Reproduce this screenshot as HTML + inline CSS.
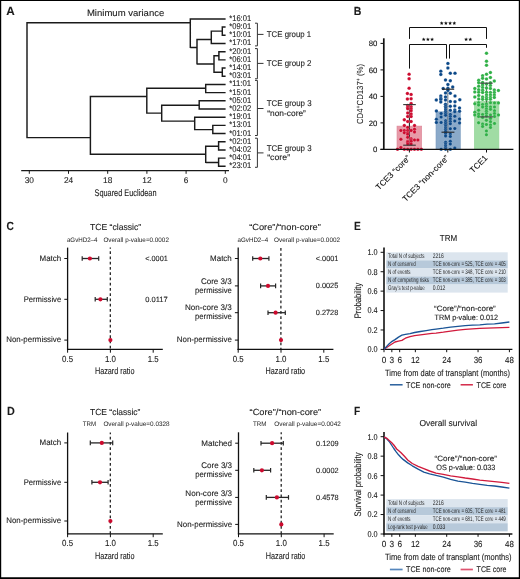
<!DOCTYPE html>
<html><head><meta charset="utf-8"><title>Figure</title>
<style>
html,body{margin:0;padding:0;background:#fff;}
body{width:520px;height:579px;overflow:hidden;}
svg{display:block;font-family:"Liberation Sans",sans-serif;will-change:transform;text-rendering:geometricPrecision;}
</style></head>
<body>
<svg width="520" height="579" viewBox="0 0 520 579" fill="#1a1a1a">
<rect x="0" y="0" width="520" height="579" fill="#fff"/>
<text x="6.30" y="15.40" font-size="11.8" font-weight="bold" stroke="#1a1a1a" stroke-width="0.10" textLength="8.50" lengthAdjust="spacingAndGlyphs">A</text>
<text x="86.90" y="16.20" font-size="9.2" stroke="#1a1a1a" stroke-width="0.10" textLength="77.40" lengthAdjust="spacingAndGlyphs">Minimum variance</text>
<text x="229.20" y="20.85" font-size="8.4" stroke="#1a1a1a" stroke-width="0.10" textLength="22.00" lengthAdjust="spacingAndGlyphs">*16:01</text>
<text x="229.20" y="29.04" font-size="8.4" stroke="#1a1a1a" stroke-width="0.10" textLength="22.00" lengthAdjust="spacingAndGlyphs">*09:01</text>
<text x="229.20" y="37.23" font-size="8.4" stroke="#1a1a1a" stroke-width="0.10" textLength="22.00" lengthAdjust="spacingAndGlyphs">*10:01</text>
<text x="229.20" y="45.42" font-size="8.4" stroke="#1a1a1a" stroke-width="0.10" textLength="22.00" lengthAdjust="spacingAndGlyphs">*17:01</text>
<text x="229.20" y="53.61" font-size="8.4" stroke="#1a1a1a" stroke-width="0.10" textLength="22.00" lengthAdjust="spacingAndGlyphs">*20:01</text>
<text x="229.20" y="61.80" font-size="8.4" stroke="#1a1a1a" stroke-width="0.10" textLength="22.00" lengthAdjust="spacingAndGlyphs">*06:01</text>
<text x="229.20" y="69.99" font-size="8.4" stroke="#1a1a1a" stroke-width="0.10" textLength="22.00" lengthAdjust="spacingAndGlyphs">*14:01</text>
<text x="229.20" y="78.18" font-size="8.4" stroke="#1a1a1a" stroke-width="0.10" textLength="22.00" lengthAdjust="spacingAndGlyphs">*03:01</text>
<text x="229.20" y="86.37" font-size="8.4" stroke="#1a1a1a" stroke-width="0.10" textLength="22.00" lengthAdjust="spacingAndGlyphs">*11:01</text>
<text x="229.20" y="94.56" font-size="8.4" stroke="#1a1a1a" stroke-width="0.10" textLength="22.00" lengthAdjust="spacingAndGlyphs">*15:01</text>
<text x="229.20" y="102.75" font-size="8.4" stroke="#1a1a1a" stroke-width="0.10" textLength="22.00" lengthAdjust="spacingAndGlyphs">*05:01</text>
<text x="229.20" y="110.94" font-size="8.4" stroke="#1a1a1a" stroke-width="0.10" textLength="22.00" lengthAdjust="spacingAndGlyphs">*02:02</text>
<text x="229.20" y="119.13" font-size="8.4" stroke="#1a1a1a" stroke-width="0.10" textLength="22.00" lengthAdjust="spacingAndGlyphs">*19:01</text>
<text x="229.20" y="127.32" font-size="8.4" stroke="#1a1a1a" stroke-width="0.10" textLength="22.00" lengthAdjust="spacingAndGlyphs">*13:01</text>
<text x="229.20" y="135.51" font-size="8.4" stroke="#1a1a1a" stroke-width="0.10" textLength="22.00" lengthAdjust="spacingAndGlyphs">*01:01</text>
<text x="229.20" y="143.70" font-size="8.4" stroke="#1a1a1a" stroke-width="0.10" textLength="22.00" lengthAdjust="spacingAndGlyphs">*02:01</text>
<text x="229.20" y="151.89" font-size="8.4" stroke="#1a1a1a" stroke-width="0.10" textLength="22.00" lengthAdjust="spacingAndGlyphs">*04:02</text>
<text x="229.20" y="160.08" font-size="8.4" stroke="#1a1a1a" stroke-width="0.10" textLength="22.00" lengthAdjust="spacingAndGlyphs">*04:01</text>
<text x="229.20" y="168.27" font-size="8.4" stroke="#1a1a1a" stroke-width="0.10" textLength="22.00" lengthAdjust="spacingAndGlyphs">*23:01</text>
<path d="M27.00 21.97V138.32M27.00 22.70H190.30M27.00 137.60H90.40M190.30 18.17V48.12M190.30 18.90H225.60M190.30 47.40H197.00M197.00 38.77V64.62M197.00 39.50H211.30M211.30 30.38V44.20M211.30 43.47H225.60M211.30 31.10H222.30M222.30 26.36V36.01M222.30 27.09H225.60M222.30 35.28H225.60M197.00 63.90H214.00M214.00 55.07V72.92M214.00 55.80H218.90M218.90 50.93V60.57M218.90 51.66H225.60M218.90 59.85H225.60M214.00 72.20H222.30M222.30 67.31V76.95M222.30 68.04H225.60M222.30 76.23H225.60M90.40 95.68V154.92M90.40 96.40H146.80M146.80 87.58V113.82M146.80 88.30H205.70M205.70 83.69V93.33M205.70 84.42H225.60M205.70 92.61H225.60M146.80 113.10H161.70M161.70 104.48V121.82M161.70 105.20H199.20M199.20 100.07V109.71M199.20 100.80H225.60M199.20 108.99H225.60M161.70 121.10H194.70M194.70 116.46V130.32M194.70 117.18H225.60M194.70 129.60H212.80M212.80 124.65V134.28M212.80 125.37H225.60M212.80 133.56H225.60M90.40 154.20H205.70M205.70 145.58V163.12M205.70 146.30H218.60M218.60 141.03V150.66M218.60 141.75H225.60M218.60 149.94H225.60M205.70 162.40H218.60M218.60 157.41V167.04M218.60 158.13H225.60M218.60 166.32H225.60" fill="none" stroke="#1a1a1a" stroke-width="1.45" />
<line x1="21.20" y1="170.60" x2="229.00" y2="170.60" stroke="#1a1a1a" stroke-width="1.4" />
<line x1="29.30" y1="170.60" x2="29.30" y2="173.80" stroke="#1a1a1a" stroke-width="1.0" />
<text x="29.30" y="183.10" font-size="8.3" text-anchor="middle" stroke="#1a1a1a" stroke-width="0.10">30</text>
<line x1="68.50" y1="170.60" x2="68.50" y2="173.80" stroke="#1a1a1a" stroke-width="1.0" />
<text x="68.50" y="183.10" font-size="8.3" text-anchor="middle" stroke="#1a1a1a" stroke-width="0.10">24</text>
<line x1="107.70" y1="170.60" x2="107.70" y2="173.80" stroke="#1a1a1a" stroke-width="1.0" />
<text x="107.70" y="183.10" font-size="8.3" text-anchor="middle" stroke="#1a1a1a" stroke-width="0.10">18</text>
<line x1="146.90" y1="170.60" x2="146.90" y2="173.80" stroke="#1a1a1a" stroke-width="1.0" />
<text x="146.90" y="183.10" font-size="8.3" text-anchor="middle" stroke="#1a1a1a" stroke-width="0.10">12</text>
<line x1="186.10" y1="170.60" x2="186.10" y2="173.80" stroke="#1a1a1a" stroke-width="1.0" />
<text x="186.10" y="183.10" font-size="8.3" text-anchor="middle" stroke="#1a1a1a" stroke-width="0.10">6</text>
<line x1="225.30" y1="170.60" x2="225.30" y2="173.80" stroke="#1a1a1a" stroke-width="1.0" />
<text x="225.30" y="183.10" font-size="8.3" text-anchor="middle" stroke="#1a1a1a" stroke-width="0.10">0</text>
<text x="94.50" y="196.20" font-size="9.5" stroke="#1a1a1a" stroke-width="0.10" textLength="62.00" lengthAdjust="spacingAndGlyphs">Squared Euclidean</text>
<path d="M255.0 23.20H257.4V45.90H255.0M257.4 34.40H263.5" fill="none" stroke="#333" stroke-width="1.0" />
<path d="M255.0 48.60H257.4V78.80H255.0M257.4 63.40H263.5" fill="none" stroke="#333" stroke-width="1.0" />
<path d="M255.0 80.40H257.4V135.50H255.0M257.4 108.50H263.5" fill="none" stroke="#333" stroke-width="1.0" />
<path d="M255.0 138.20H257.4V167.30H255.0M257.4 152.90H263.5" fill="none" stroke="#333" stroke-width="1.0" />
<text x="266.80" y="36.80" font-size="8.3" stroke="#1a1a1a" stroke-width="0.10" textLength="44.40" lengthAdjust="spacingAndGlyphs">TCE group 1</text>
<text x="266.80" y="66.10" font-size="8.3" stroke="#1a1a1a" stroke-width="0.10" textLength="44.60" lengthAdjust="spacingAndGlyphs">TCE group 2</text>
<text x="266.80" y="106.40" font-size="8.3" stroke="#1a1a1a" stroke-width="0.10" textLength="44.80" lengthAdjust="spacingAndGlyphs">TCE group 3</text>
<text x="267.20" y="115.90" font-size="8.3" stroke="#1a1a1a" stroke-width="0.10" textLength="38.70" lengthAdjust="spacingAndGlyphs">“non-core”</text>
<text x="266.80" y="150.90" font-size="8.3" stroke="#1a1a1a" stroke-width="0.10" textLength="44.80" lengthAdjust="spacingAndGlyphs">TCE group 3</text>
<text x="267.20" y="160.00" font-size="8.3" stroke="#1a1a1a" stroke-width="0.10" textLength="22.90" lengthAdjust="spacingAndGlyphs">“core”</text>
<text x="353.80" y="15.40" font-size="11.8" font-weight="bold" stroke="#1a1a1a" stroke-width="0.10" textLength="7.60" lengthAdjust="spacingAndGlyphs">B</text>
<rect x="397.00" y="126.10" width="24.70" height="23.30" fill="#e79aa8" stroke="#dc8597" stroke-width="0.6"/>
<rect x="436.00" y="111.80" width="24.30" height="37.60" fill="#8aa9c9" stroke="#7b9cbf" stroke-width="0.6"/>
<rect x="474.30" y="101.20" width="24.60" height="48.20" fill="#a0dca4" stroke="#93d498" stroke-width="0.6"/>
<line x1="409.40" y1="104.60" x2="409.40" y2="145.20" stroke="#222" stroke-width="1.1" />
<line x1="447.80" y1="89.20" x2="447.80" y2="132.20" stroke="#6f7b86" stroke-width="1.1" />
<line x1="486.50" y1="83.00" x2="486.50" y2="116.90" stroke="#444" stroke-width="1.1" />
<circle cx="409.10" cy="74.20" r="1.75" fill="#cc0a2e" stroke="#fff" stroke-opacity="0.45" stroke-width="0.4"/>
<circle cx="409.10" cy="78.70" r="1.75" fill="#cc0a2e" stroke="#fff" stroke-opacity="0.45" stroke-width="0.4"/>
<circle cx="409.10" cy="88.20" r="1.75" fill="#cc0a2e" stroke="#fff" stroke-opacity="0.45" stroke-width="0.4"/>
<circle cx="407.40" cy="93.50" r="1.75" fill="#cc0a2e" stroke="#fff" stroke-opacity="0.45" stroke-width="0.4"/>
<circle cx="411.10" cy="94.40" r="1.75" fill="#cc0a2e" stroke="#fff" stroke-opacity="0.45" stroke-width="0.4"/>
<circle cx="407.40" cy="99.00" r="1.75" fill="#cc0a2e" stroke="#fff" stroke-opacity="0.45" stroke-width="0.4"/>
<circle cx="411.10" cy="98.80" r="1.75" fill="#cc0a2e" stroke="#fff" stroke-opacity="0.45" stroke-width="0.4"/>
<circle cx="411.10" cy="103.60" r="1.75" fill="#cc0a2e" stroke="#fff" stroke-opacity="0.45" stroke-width="0.4"/>
<circle cx="407.70" cy="105.57" r="1.75" fill="#cc0a2e" stroke="#fff" stroke-opacity="0.45" stroke-width="0.4"/>
<circle cx="411.10" cy="106.74" r="1.75" fill="#cc0a2e" stroke="#fff" stroke-opacity="0.45" stroke-width="0.4"/>
<circle cx="407.70" cy="107.19" r="1.75" fill="#cc0a2e" stroke="#fff" stroke-opacity="0.45" stroke-width="0.4"/>
<circle cx="407.70" cy="108.72" r="1.75" fill="#cc0a2e" stroke="#fff" stroke-opacity="0.45" stroke-width="0.4"/>
<circle cx="411.10" cy="108.72" r="1.75" fill="#cc0a2e" stroke="#fff" stroke-opacity="0.45" stroke-width="0.4"/>
<circle cx="411.10" cy="110.78" r="1.75" fill="#cc0a2e" stroke="#fff" stroke-opacity="0.45" stroke-width="0.4"/>
<circle cx="407.70" cy="113.03" r="1.75" fill="#cc0a2e" stroke="#fff" stroke-opacity="0.45" stroke-width="0.4"/>
<circle cx="411.10" cy="113.93" r="1.75" fill="#cc0a2e" stroke="#fff" stroke-opacity="0.45" stroke-width="0.4"/>
<circle cx="407.70" cy="116.62" r="1.75" fill="#cc0a2e" stroke="#fff" stroke-opacity="0.45" stroke-width="0.4"/>
<circle cx="411.10" cy="116.62" r="1.75" fill="#cc0a2e" stroke="#fff" stroke-opacity="0.45" stroke-width="0.4"/>
<circle cx="404.30" cy="119.77" r="1.75" fill="#cc0a2e" stroke="#fff" stroke-opacity="0.45" stroke-width="0.4"/>
<circle cx="407.70" cy="121.56" r="1.75" fill="#cc0a2e" stroke="#fff" stroke-opacity="0.45" stroke-width="0.4"/>
<circle cx="411.10" cy="121.56" r="1.75" fill="#cc0a2e" stroke="#fff" stroke-opacity="0.45" stroke-width="0.4"/>
<circle cx="404.30" cy="125.61" r="1.75" fill="#cc0a2e" stroke="#fff" stroke-opacity="0.45" stroke-width="0.4"/>
<circle cx="414.50" cy="125.61" r="1.75" fill="#cc0a2e" stroke="#fff" stroke-opacity="0.45" stroke-width="0.4"/>
<circle cx="407.70" cy="127.40" r="1.75" fill="#cc0a2e" stroke="#fff" stroke-opacity="0.45" stroke-width="0.4"/>
<circle cx="414.50" cy="129.20" r="1.75" fill="#cc0a2e" stroke="#fff" stroke-opacity="0.45" stroke-width="0.4"/>
<circle cx="400.90" cy="130.55" r="1.75" fill="#cc0a2e" stroke="#fff" stroke-opacity="0.45" stroke-width="0.4"/>
<circle cx="404.30" cy="130.55" r="1.75" fill="#cc0a2e" stroke="#fff" stroke-opacity="0.45" stroke-width="0.4"/>
<circle cx="407.70" cy="130.55" r="1.75" fill="#cc0a2e" stroke="#fff" stroke-opacity="0.45" stroke-width="0.4"/>
<circle cx="411.10" cy="130.55" r="1.75" fill="#cc0a2e" stroke="#fff" stroke-opacity="0.45" stroke-width="0.4"/>
<circle cx="414.50" cy="131.90" r="1.75" fill="#cc0a2e" stroke="#fff" stroke-opacity="0.45" stroke-width="0.4"/>
<circle cx="404.30" cy="132.79" r="1.75" fill="#cc0a2e" stroke="#fff" stroke-opacity="0.45" stroke-width="0.4"/>
<circle cx="407.70" cy="132.79" r="1.75" fill="#cc0a2e" stroke="#fff" stroke-opacity="0.45" stroke-width="0.4"/>
<circle cx="407.70" cy="134.14" r="1.75" fill="#cc0a2e" stroke="#fff" stroke-opacity="0.45" stroke-width="0.4"/>
<circle cx="407.70" cy="137.29" r="1.75" fill="#cc0a2e" stroke="#fff" stroke-opacity="0.45" stroke-width="0.4"/>
<circle cx="411.10" cy="138.63" r="1.75" fill="#cc0a2e" stroke="#fff" stroke-opacity="0.45" stroke-width="0.4"/>
<circle cx="400.90" cy="139.35" r="1.75" fill="#cc0a2e" stroke="#fff" stroke-opacity="0.45" stroke-width="0.4"/>
<circle cx="411.10" cy="139.98" r="1.75" fill="#cc0a2e" stroke="#fff" stroke-opacity="0.45" stroke-width="0.4"/>
<circle cx="414.50" cy="139.98" r="1.75" fill="#cc0a2e" stroke="#fff" stroke-opacity="0.45" stroke-width="0.4"/>
<circle cx="417.90" cy="139.98" r="1.75" fill="#cc0a2e" stroke="#fff" stroke-opacity="0.45" stroke-width="0.4"/>
<circle cx="407.70" cy="141.33" r="1.75" fill="#cc0a2e" stroke="#fff" stroke-opacity="0.45" stroke-width="0.4"/>
<circle cx="411.10" cy="141.33" r="1.75" fill="#cc0a2e" stroke="#fff" stroke-opacity="0.45" stroke-width="0.4"/>
<circle cx="407.70" cy="142.23" r="1.75" fill="#cc0a2e" stroke="#fff" stroke-opacity="0.45" stroke-width="0.4"/>
<circle cx="407.70" cy="144.03" r="1.75" fill="#cc0a2e" stroke="#fff" stroke-opacity="0.45" stroke-width="0.4"/>
<circle cx="411.10" cy="144.03" r="1.75" fill="#cc0a2e" stroke="#fff" stroke-opacity="0.45" stroke-width="0.4"/>
<circle cx="400.90" cy="147.62" r="1.75" fill="#cc0a2e" stroke="#fff" stroke-opacity="0.45" stroke-width="0.4"/>
<circle cx="397.50" cy="149.24" r="1.75" fill="#cc0a2e" stroke="#fff" stroke-opacity="0.45" stroke-width="0.4"/>
<circle cx="404.30" cy="149.24" r="1.75" fill="#cc0a2e" stroke="#fff" stroke-opacity="0.45" stroke-width="0.4"/>
<circle cx="407.70" cy="149.24" r="1.75" fill="#cc0a2e" stroke="#fff" stroke-opacity="0.45" stroke-width="0.4"/>
<circle cx="411.10" cy="149.24" r="1.75" fill="#cc0a2e" stroke="#fff" stroke-opacity="0.45" stroke-width="0.4"/>
<circle cx="414.50" cy="149.24" r="1.75" fill="#cc0a2e" stroke="#fff" stroke-opacity="0.45" stroke-width="0.4"/>
<circle cx="417.90" cy="149.24" r="1.75" fill="#cc0a2e" stroke="#fff" stroke-opacity="0.45" stroke-width="0.4"/>
<circle cx="421.30" cy="149.24" r="1.75" fill="#cc0a2e" stroke="#fff" stroke-opacity="0.45" stroke-width="0.4"/>
<circle cx="447.90" cy="63.40" r="1.75" fill="#0b4888" stroke="#fff" stroke-opacity="0.45" stroke-width="0.4"/>
<circle cx="447.90" cy="68.00" r="1.75" fill="#0b4888" stroke="#fff" stroke-opacity="0.45" stroke-width="0.4"/>
<circle cx="440.80" cy="71.20" r="1.75" fill="#0b4888" stroke="#fff" stroke-opacity="0.45" stroke-width="0.4"/>
<circle cx="440.80" cy="74.40" r="1.75" fill="#0b4888" stroke="#fff" stroke-opacity="0.45" stroke-width="0.4"/>
<circle cx="450.30" cy="73.20" r="1.75" fill="#0b4888" stroke="#fff" stroke-opacity="0.45" stroke-width="0.4"/>
<circle cx="455.00" cy="73.20" r="1.75" fill="#0b4888" stroke="#fff" stroke-opacity="0.45" stroke-width="0.4"/>
<circle cx="445.50" cy="79.90" r="1.75" fill="#0b4888" stroke="#fff" stroke-opacity="0.45" stroke-width="0.4"/>
<circle cx="450.30" cy="80.70" r="1.75" fill="#0b4888" stroke="#fff" stroke-opacity="0.45" stroke-width="0.4"/>
<circle cx="447.90" cy="84.60" r="1.75" fill="#0b4888" stroke="#fff" stroke-opacity="0.45" stroke-width="0.4"/>
<circle cx="452.70" cy="87.00" r="1.75" fill="#0b4888" stroke="#fff" stroke-opacity="0.45" stroke-width="0.4"/>
<circle cx="443.20" cy="88.50" r="1.75" fill="#0b4888" stroke="#fff" stroke-opacity="0.45" stroke-width="0.4"/>
<circle cx="447.90" cy="88.30" r="1.75" fill="#0b4888" stroke="#fff" stroke-opacity="0.45" stroke-width="0.4"/>
<circle cx="447.90" cy="90.40" r="1.75" fill="#0b4888" stroke="#fff" stroke-opacity="0.45" stroke-width="0.4"/>
<circle cx="445.50" cy="93.00" r="1.75" fill="#0b4888" stroke="#fff" stroke-opacity="0.45" stroke-width="0.4"/>
<circle cx="450.30" cy="93.20" r="1.75" fill="#0b4888" stroke="#fff" stroke-opacity="0.45" stroke-width="0.4"/>
<circle cx="440.80" cy="96.10" r="1.75" fill="#0b4888" stroke="#fff" stroke-opacity="0.45" stroke-width="0.4"/>
<circle cx="445.50" cy="96.90" r="1.75" fill="#0b4888" stroke="#fff" stroke-opacity="0.45" stroke-width="0.4"/>
<circle cx="455.00" cy="95.90" r="1.75" fill="#0b4888" stroke="#fff" stroke-opacity="0.45" stroke-width="0.4"/>
<circle cx="440.80" cy="98.20" r="1.75" fill="#0b4888" stroke="#fff" stroke-opacity="0.45" stroke-width="0.4"/>
<circle cx="436.30" cy="99.90" r="1.75" fill="#0b4888" stroke="#fff" stroke-opacity="0.45" stroke-width="0.4"/>
<circle cx="440.80" cy="99.50" r="1.75" fill="#0b4888" stroke="#fff" stroke-opacity="0.45" stroke-width="0.4"/>
<circle cx="445.50" cy="99.90" r="1.75" fill="#0b4888" stroke="#fff" stroke-opacity="0.45" stroke-width="0.4"/>
<circle cx="459.80" cy="99.80" r="1.75" fill="#0b4888" stroke="#fff" stroke-opacity="0.45" stroke-width="0.4"/>
<circle cx="440.80" cy="102.10" r="1.75" fill="#0b4888" stroke="#fff" stroke-opacity="0.45" stroke-width="0.4"/>
<circle cx="450.30" cy="101.40" r="1.75" fill="#0b4888" stroke="#fff" stroke-opacity="0.45" stroke-width="0.4"/>
<circle cx="455.00" cy="101.70" r="1.75" fill="#0b4888" stroke="#fff" stroke-opacity="0.45" stroke-width="0.4"/>
<circle cx="445.50" cy="104.30" r="1.75" fill="#0b4888" stroke="#fff" stroke-opacity="0.45" stroke-width="0.4"/>
<circle cx="445.60" cy="106.30" r="1.75" fill="#0b4888" stroke="#fff" stroke-opacity="0.45" stroke-width="0.4"/>
<circle cx="445.60" cy="108.10" r="1.75" fill="#0b4888" stroke="#fff" stroke-opacity="0.45" stroke-width="0.4"/>
<circle cx="445.60" cy="109.90" r="1.75" fill="#0b4888" stroke="#fff" stroke-opacity="0.45" stroke-width="0.4"/>
<circle cx="445.60" cy="111.70" r="1.75" fill="#0b4888" stroke="#fff" stroke-opacity="0.45" stroke-width="0.4"/>
<circle cx="445.60" cy="113.50" r="1.75" fill="#0b4888" stroke="#fff" stroke-opacity="0.45" stroke-width="0.4"/>
<circle cx="445.60" cy="115.30" r="1.75" fill="#0b4888" stroke="#fff" stroke-opacity="0.45" stroke-width="0.4"/>
<circle cx="445.60" cy="120.70" r="1.75" fill="#0b4888" stroke="#fff" stroke-opacity="0.45" stroke-width="0.4"/>
<circle cx="445.60" cy="122.50" r="1.75" fill="#0b4888" stroke="#fff" stroke-opacity="0.45" stroke-width="0.4"/>
<circle cx="445.60" cy="124.30" r="1.75" fill="#0b4888" stroke="#fff" stroke-opacity="0.45" stroke-width="0.4"/>
<circle cx="445.60" cy="126.10" r="1.75" fill="#0b4888" stroke="#fff" stroke-opacity="0.45" stroke-width="0.4"/>
<circle cx="445.60" cy="127.90" r="1.75" fill="#0b4888" stroke="#fff" stroke-opacity="0.45" stroke-width="0.4"/>
<circle cx="445.60" cy="129.60" r="1.75" fill="#0b4888" stroke="#fff" stroke-opacity="0.45" stroke-width="0.4"/>
<circle cx="445.60" cy="131.40" r="1.75" fill="#0b4888" stroke="#fff" stroke-opacity="0.45" stroke-width="0.4"/>
<circle cx="445.60" cy="133.70" r="1.75" fill="#0b4888" stroke="#fff" stroke-opacity="0.45" stroke-width="0.4"/>
<circle cx="445.60" cy="135.90" r="1.75" fill="#0b4888" stroke="#fff" stroke-opacity="0.45" stroke-width="0.4"/>
<circle cx="445.60" cy="142.20" r="1.75" fill="#0b4888" stroke="#fff" stroke-opacity="0.45" stroke-width="0.4"/>
<circle cx="445.60" cy="144.00" r="1.75" fill="#0b4888" stroke="#fff" stroke-opacity="0.45" stroke-width="0.4"/>
<circle cx="445.60" cy="145.80" r="1.75" fill="#0b4888" stroke="#fff" stroke-opacity="0.45" stroke-width="0.4"/>
<circle cx="445.60" cy="147.60" r="1.75" fill="#0b4888" stroke="#fff" stroke-opacity="0.45" stroke-width="0.4"/>
<circle cx="445.60" cy="149.20" r="1.75" fill="#0b4888" stroke="#fff" stroke-opacity="0.45" stroke-width="0.4"/>
<circle cx="450.30" cy="106.30" r="1.75" fill="#0b4888" stroke="#fff" stroke-opacity="0.45" stroke-width="0.4"/>
<circle cx="450.30" cy="110.30" r="1.75" fill="#0b4888" stroke="#fff" stroke-opacity="0.45" stroke-width="0.4"/>
<circle cx="450.30" cy="114.40" r="1.75" fill="#0b4888" stroke="#fff" stroke-opacity="0.45" stroke-width="0.4"/>
<circle cx="450.30" cy="116.60" r="1.75" fill="#0b4888" stroke="#fff" stroke-opacity="0.45" stroke-width="0.4"/>
<circle cx="450.30" cy="118.90" r="1.75" fill="#0b4888" stroke="#fff" stroke-opacity="0.45" stroke-width="0.4"/>
<circle cx="450.30" cy="121.60" r="1.75" fill="#0b4888" stroke="#fff" stroke-opacity="0.45" stroke-width="0.4"/>
<circle cx="450.30" cy="123.80" r="1.75" fill="#0b4888" stroke="#fff" stroke-opacity="0.45" stroke-width="0.4"/>
<circle cx="450.30" cy="128.80" r="1.75" fill="#0b4888" stroke="#fff" stroke-opacity="0.45" stroke-width="0.4"/>
<circle cx="450.30" cy="134.10" r="1.75" fill="#0b4888" stroke="#fff" stroke-opacity="0.45" stroke-width="0.4"/>
<circle cx="450.30" cy="136.40" r="1.75" fill="#0b4888" stroke="#fff" stroke-opacity="0.45" stroke-width="0.4"/>
<circle cx="450.30" cy="141.30" r="1.75" fill="#0b4888" stroke="#fff" stroke-opacity="0.45" stroke-width="0.4"/>
<circle cx="450.30" cy="144.00" r="1.75" fill="#0b4888" stroke="#fff" stroke-opacity="0.45" stroke-width="0.4"/>
<circle cx="450.30" cy="149.20" r="1.75" fill="#0b4888" stroke="#fff" stroke-opacity="0.45" stroke-width="0.4"/>
<circle cx="454.80" cy="106.10" r="1.75" fill="#0b4888" stroke="#fff" stroke-opacity="0.45" stroke-width="0.4"/>
<circle cx="454.80" cy="109.90" r="1.75" fill="#0b4888" stroke="#fff" stroke-opacity="0.45" stroke-width="0.4"/>
<circle cx="454.80" cy="111.70" r="1.75" fill="#0b4888" stroke="#fff" stroke-opacity="0.45" stroke-width="0.4"/>
<circle cx="454.80" cy="116.20" r="1.75" fill="#0b4888" stroke="#fff" stroke-opacity="0.45" stroke-width="0.4"/>
<circle cx="454.80" cy="121.10" r="1.75" fill="#0b4888" stroke="#fff" stroke-opacity="0.45" stroke-width="0.4"/>
<circle cx="454.80" cy="128.60" r="1.75" fill="#0b4888" stroke="#fff" stroke-opacity="0.45" stroke-width="0.4"/>
<circle cx="454.80" cy="148.10" r="1.75" fill="#0b4888" stroke="#fff" stroke-opacity="0.45" stroke-width="0.4"/>
<circle cx="459.50" cy="107.90" r="1.75" fill="#0b4888" stroke="#fff" stroke-opacity="0.45" stroke-width="0.4"/>
<circle cx="459.50" cy="111.20" r="1.75" fill="#0b4888" stroke="#fff" stroke-opacity="0.45" stroke-width="0.4"/>
<circle cx="459.50" cy="118.90" r="1.75" fill="#0b4888" stroke="#fff" stroke-opacity="0.45" stroke-width="0.4"/>
<circle cx="459.50" cy="122.90" r="1.75" fill="#0b4888" stroke="#fff" stroke-opacity="0.45" stroke-width="0.4"/>
<circle cx="441.10" cy="113.50" r="1.75" fill="#0b4888" stroke="#fff" stroke-opacity="0.45" stroke-width="0.4"/>
<circle cx="441.10" cy="117.10" r="1.75" fill="#0b4888" stroke="#fff" stroke-opacity="0.45" stroke-width="0.4"/>
<circle cx="441.10" cy="122.50" r="1.75" fill="#0b4888" stroke="#fff" stroke-opacity="0.45" stroke-width="0.4"/>
<circle cx="441.10" cy="149.20" r="1.75" fill="#0b4888" stroke="#fff" stroke-opacity="0.45" stroke-width="0.4"/>
<circle cx="436.40" cy="111.00" r="1.75" fill="#0b4888" stroke="#fff" stroke-opacity="0.45" stroke-width="0.4"/>
<circle cx="436.40" cy="119.30" r="1.75" fill="#0b4888" stroke="#fff" stroke-opacity="0.45" stroke-width="0.4"/>
<circle cx="436.40" cy="122.50" r="1.75" fill="#0b4888" stroke="#fff" stroke-opacity="0.45" stroke-width="0.4"/>
<circle cx="486.50" cy="53.30" r="1.75" fill="#2fb046" stroke="#fff" stroke-opacity="0.45" stroke-width="0.4"/>
<circle cx="486.50" cy="61.20" r="1.75" fill="#2fb046" stroke="#fff" stroke-opacity="0.45" stroke-width="0.4"/>
<circle cx="486.50" cy="65.30" r="1.75" fill="#2fb046" stroke="#fff" stroke-opacity="0.45" stroke-width="0.4"/>
<circle cx="490.40" cy="72.60" r="1.75" fill="#2fb046" stroke="#fff" stroke-opacity="0.45" stroke-width="0.4"/>
<circle cx="486.50" cy="74.20" r="1.75" fill="#2fb046" stroke="#fff" stroke-opacity="0.45" stroke-width="0.4"/>
<circle cx="482.60" cy="75.70" r="1.75" fill="#2fb046" stroke="#fff" stroke-opacity="0.45" stroke-width="0.4"/>
<circle cx="490.40" cy="77.50" r="1.75" fill="#2fb046" stroke="#fff" stroke-opacity="0.45" stroke-width="0.4"/>
<circle cx="482.60" cy="78.30" r="1.75" fill="#2fb046" stroke="#fff" stroke-opacity="0.45" stroke-width="0.4"/>
<circle cx="486.50" cy="79.00" r="1.75" fill="#2fb046" stroke="#fff" stroke-opacity="0.45" stroke-width="0.4"/>
<circle cx="478.70" cy="80.30" r="1.75" fill="#2fb046" stroke="#fff" stroke-opacity="0.45" stroke-width="0.4"/>
<circle cx="494.30" cy="81.10" r="1.75" fill="#2fb046" stroke="#fff" stroke-opacity="0.45" stroke-width="0.4"/>
<circle cx="478.70" cy="82.70" r="1.75" fill="#2fb046" stroke="#fff" stroke-opacity="0.45" stroke-width="0.4"/>
<circle cx="482.60" cy="82.40" r="1.75" fill="#2fb046" stroke="#fff" stroke-opacity="0.45" stroke-width="0.4"/>
<circle cx="490.40" cy="82.80" r="1.75" fill="#2fb046" stroke="#fff" stroke-opacity="0.45" stroke-width="0.4"/>
<circle cx="486.50" cy="84.10" r="1.75" fill="#2fb046" stroke="#fff" stroke-opacity="0.45" stroke-width="0.4"/>
<circle cx="482.60" cy="85.00" r="1.75" fill="#2fb046" stroke="#fff" stroke-opacity="0.45" stroke-width="0.4"/>
<circle cx="490.40" cy="85.40" r="1.75" fill="#2fb046" stroke="#fff" stroke-opacity="0.45" stroke-width="0.4"/>
<circle cx="478.70" cy="86.30" r="1.75" fill="#2fb046" stroke="#fff" stroke-opacity="0.45" stroke-width="0.4"/>
<circle cx="482.60" cy="87.60" r="1.75" fill="#2fb046" stroke="#fff" stroke-opacity="0.45" stroke-width="0.4"/>
<circle cx="486.50" cy="88.00" r="1.75" fill="#2fb046" stroke="#fff" stroke-opacity="0.45" stroke-width="0.4"/>
<circle cx="490.40" cy="88.50" r="1.75" fill="#2fb046" stroke="#fff" stroke-opacity="0.45" stroke-width="0.4"/>
<circle cx="474.80" cy="88.50" r="1.75" fill="#2fb046" stroke="#fff" stroke-opacity="0.45" stroke-width="0.4"/>
<circle cx="478.70" cy="89.80" r="1.75" fill="#2fb046" stroke="#fff" stroke-opacity="0.45" stroke-width="0.4"/>
<circle cx="482.60" cy="90.20" r="1.75" fill="#2fb046" stroke="#fff" stroke-opacity="0.45" stroke-width="0.4"/>
<circle cx="494.30" cy="89.90" r="1.75" fill="#2fb046" stroke="#fff" stroke-opacity="0.45" stroke-width="0.4"/>
<circle cx="498.40" cy="90.40" r="1.75" fill="#2fb046" stroke="#fff" stroke-opacity="0.45" stroke-width="0.4"/>
<circle cx="474.80" cy="91.90" r="1.75" fill="#2fb046" stroke="#fff" stroke-opacity="0.45" stroke-width="0.4"/>
<circle cx="478.70" cy="92.30" r="1.75" fill="#2fb046" stroke="#fff" stroke-opacity="0.45" stroke-width="0.4"/>
<circle cx="482.60" cy="92.50" r="1.75" fill="#2fb046" stroke="#fff" stroke-opacity="0.45" stroke-width="0.4"/>
<circle cx="486.50" cy="92.30" r="1.75" fill="#2fb046" stroke="#fff" stroke-opacity="0.45" stroke-width="0.4"/>
<circle cx="490.40" cy="92.50" r="1.75" fill="#2fb046" stroke="#fff" stroke-opacity="0.45" stroke-width="0.4"/>
<circle cx="494.30" cy="92.50" r="1.75" fill="#2fb046" stroke="#fff" stroke-opacity="0.45" stroke-width="0.4"/>
<circle cx="486.50" cy="94.90" r="1.75" fill="#2fb046" stroke="#fff" stroke-opacity="0.45" stroke-width="0.4"/>
<circle cx="490.40" cy="94.90" r="1.75" fill="#2fb046" stroke="#fff" stroke-opacity="0.45" stroke-width="0.4"/>
<circle cx="494.30" cy="94.90" r="1.75" fill="#2fb046" stroke="#fff" stroke-opacity="0.45" stroke-width="0.4"/>
<circle cx="478.70" cy="95.40" r="1.75" fill="#2fb046" stroke="#fff" stroke-opacity="0.45" stroke-width="0.4"/>
<circle cx="474.80" cy="97.10" r="1.75" fill="#2fb046" stroke="#fff" stroke-opacity="0.45" stroke-width="0.4"/>
<circle cx="482.60" cy="97.10" r="1.75" fill="#2fb046" stroke="#fff" stroke-opacity="0.45" stroke-width="0.4"/>
<circle cx="486.50" cy="97.40" r="1.75" fill="#2fb046" stroke="#fff" stroke-opacity="0.45" stroke-width="0.4"/>
<circle cx="490.40" cy="97.40" r="1.75" fill="#2fb046" stroke="#fff" stroke-opacity="0.45" stroke-width="0.4"/>
<circle cx="494.30" cy="97.40" r="1.75" fill="#2fb046" stroke="#fff" stroke-opacity="0.45" stroke-width="0.4"/>
<circle cx="478.70" cy="99.10" r="1.75" fill="#2fb046" stroke="#fff" stroke-opacity="0.45" stroke-width="0.4"/>
<circle cx="482.60" cy="99.30" r="1.75" fill="#2fb046" stroke="#fff" stroke-opacity="0.45" stroke-width="0.4"/>
<circle cx="486.50" cy="99.30" r="1.75" fill="#2fb046" stroke="#fff" stroke-opacity="0.45" stroke-width="0.4"/>
<circle cx="490.40" cy="99.30" r="1.75" fill="#2fb046" stroke="#fff" stroke-opacity="0.45" stroke-width="0.4"/>
<circle cx="474.80" cy="103.80" r="1.75" fill="#2fb046" stroke="#fff" stroke-opacity="0.45" stroke-width="0.4"/>
<circle cx="474.80" cy="112.20" r="1.75" fill="#2fb046" stroke="#fff" stroke-opacity="0.45" stroke-width="0.4"/>
<circle cx="474.80" cy="114.90" r="1.75" fill="#2fb046" stroke="#fff" stroke-opacity="0.45" stroke-width="0.4"/>
<circle cx="478.60" cy="102.70" r="1.75" fill="#2fb046" stroke="#fff" stroke-opacity="0.45" stroke-width="0.4"/>
<circle cx="478.60" cy="105.10" r="1.75" fill="#2fb046" stroke="#fff" stroke-opacity="0.45" stroke-width="0.4"/>
<circle cx="478.60" cy="110.30" r="1.75" fill="#2fb046" stroke="#fff" stroke-opacity="0.45" stroke-width="0.4"/>
<circle cx="478.60" cy="114.10" r="1.75" fill="#2fb046" stroke="#fff" stroke-opacity="0.45" stroke-width="0.4"/>
<circle cx="478.60" cy="116.50" r="1.75" fill="#2fb046" stroke="#fff" stroke-opacity="0.45" stroke-width="0.4"/>
<circle cx="478.60" cy="122.80" r="1.75" fill="#2fb046" stroke="#fff" stroke-opacity="0.45" stroke-width="0.4"/>
<circle cx="482.60" cy="104.60" r="1.75" fill="#2fb046" stroke="#fff" stroke-opacity="0.45" stroke-width="0.4"/>
<circle cx="482.60" cy="107.00" r="1.75" fill="#2fb046" stroke="#fff" stroke-opacity="0.45" stroke-width="0.4"/>
<circle cx="482.60" cy="114.60" r="1.75" fill="#2fb046" stroke="#fff" stroke-opacity="0.45" stroke-width="0.4"/>
<circle cx="482.60" cy="117.40" r="1.75" fill="#2fb046" stroke="#fff" stroke-opacity="0.45" stroke-width="0.4"/>
<circle cx="482.60" cy="124.10" r="1.75" fill="#2fb046" stroke="#fff" stroke-opacity="0.45" stroke-width="0.4"/>
<circle cx="482.60" cy="126.40" r="1.75" fill="#2fb046" stroke="#fff" stroke-opacity="0.45" stroke-width="0.4"/>
<circle cx="486.40" cy="104.10" r="1.75" fill="#2fb046" stroke="#fff" stroke-opacity="0.45" stroke-width="0.4"/>
<circle cx="486.40" cy="106.50" r="1.75" fill="#2fb046" stroke="#fff" stroke-opacity="0.45" stroke-width="0.4"/>
<circle cx="486.40" cy="108.90" r="1.75" fill="#2fb046" stroke="#fff" stroke-opacity="0.45" stroke-width="0.4"/>
<circle cx="486.40" cy="111.20" r="1.75" fill="#2fb046" stroke="#fff" stroke-opacity="0.45" stroke-width="0.4"/>
<circle cx="486.40" cy="113.60" r="1.75" fill="#2fb046" stroke="#fff" stroke-opacity="0.45" stroke-width="0.4"/>
<circle cx="486.40" cy="116.00" r="1.75" fill="#2fb046" stroke="#fff" stroke-opacity="0.45" stroke-width="0.4"/>
<circle cx="486.40" cy="120.30" r="1.75" fill="#2fb046" stroke="#fff" stroke-opacity="0.45" stroke-width="0.4"/>
<circle cx="486.40" cy="124.50" r="1.75" fill="#2fb046" stroke="#fff" stroke-opacity="0.45" stroke-width="0.4"/>
<circle cx="486.40" cy="131.00" r="1.75" fill="#2fb046" stroke="#fff" stroke-opacity="0.45" stroke-width="0.4"/>
<circle cx="486.40" cy="134.80" r="1.75" fill="#2fb046" stroke="#fff" stroke-opacity="0.45" stroke-width="0.4"/>
<circle cx="490.50" cy="102.70" r="1.75" fill="#2fb046" stroke="#fff" stroke-opacity="0.45" stroke-width="0.4"/>
<circle cx="490.50" cy="107.00" r="1.75" fill="#2fb046" stroke="#fff" stroke-opacity="0.45" stroke-width="0.4"/>
<circle cx="490.50" cy="109.30" r="1.75" fill="#2fb046" stroke="#fff" stroke-opacity="0.45" stroke-width="0.4"/>
<circle cx="490.50" cy="115.00" r="1.75" fill="#2fb046" stroke="#fff" stroke-opacity="0.45" stroke-width="0.4"/>
<circle cx="490.50" cy="118.40" r="1.75" fill="#2fb046" stroke="#fff" stroke-opacity="0.45" stroke-width="0.4"/>
<circle cx="490.50" cy="121.70" r="1.75" fill="#2fb046" stroke="#fff" stroke-opacity="0.45" stroke-width="0.4"/>
<circle cx="490.50" cy="125.00" r="1.75" fill="#2fb046" stroke="#fff" stroke-opacity="0.45" stroke-width="0.4"/>
<circle cx="490.50" cy="127.40" r="1.75" fill="#2fb046" stroke="#fff" stroke-opacity="0.45" stroke-width="0.4"/>
<circle cx="494.50" cy="102.90" r="1.75" fill="#2fb046" stroke="#fff" stroke-opacity="0.45" stroke-width="0.4"/>
<circle cx="494.50" cy="107.00" r="1.75" fill="#2fb046" stroke="#fff" stroke-opacity="0.45" stroke-width="0.4"/>
<circle cx="494.50" cy="110.80" r="1.75" fill="#2fb046" stroke="#fff" stroke-opacity="0.45" stroke-width="0.4"/>
<circle cx="494.50" cy="113.60" r="1.75" fill="#2fb046" stroke="#fff" stroke-opacity="0.45" stroke-width="0.4"/>
<circle cx="494.50" cy="116.50" r="1.75" fill="#2fb046" stroke="#fff" stroke-opacity="0.45" stroke-width="0.4"/>
<circle cx="494.50" cy="123.40" r="1.75" fill="#2fb046" stroke="#fff" stroke-opacity="0.45" stroke-width="0.4"/>
<circle cx="498.40" cy="102.90" r="1.75" fill="#2fb046" stroke="#fff" stroke-opacity="0.45" stroke-width="0.4"/>
<circle cx="498.40" cy="114.90" r="1.75" fill="#2fb046" stroke="#fff" stroke-opacity="0.45" stroke-width="0.4"/>
<line x1="403.20" y1="104.60" x2="415.80" y2="104.60" stroke="#333" stroke-width="1.1" />
<line x1="403.20" y1="145.20" x2="415.80" y2="145.20" stroke="#333" stroke-width="1.1" />
<line x1="442.00" y1="89.20" x2="454.20" y2="89.20" stroke="#222" stroke-width="1.1" />
<line x1="441.50" y1="132.20" x2="454.40" y2="132.20" stroke="#222" stroke-width="1.1" />
<line x1="480.20" y1="83.20" x2="492.70" y2="83.20" stroke="#444" stroke-width="1.1" />
<line x1="480.10" y1="116.90" x2="492.90" y2="116.90" stroke="#444" stroke-width="1.1" />
<line x1="383.80" y1="38.30" x2="383.80" y2="150.00" stroke="#111" stroke-width="1.7" />
<line x1="380.40" y1="149.40" x2="513.40" y2="149.40" stroke="#111" stroke-width="1.4" />
<line x1="380.50" y1="149.40" x2="383.80" y2="149.40" stroke="#111" stroke-width="1.0" />
<text x="377.40" y="152.10" font-size="7.8" text-anchor="end" fill="#111" stroke="#111" stroke-width="0.10">0</text>
<line x1="380.50" y1="122.90" x2="383.80" y2="122.90" stroke="#111" stroke-width="1.0" />
<text x="377.40" y="125.60" font-size="7.8" text-anchor="end" fill="#111" stroke="#111" stroke-width="0.10">20</text>
<line x1="380.50" y1="96.40" x2="383.80" y2="96.40" stroke="#111" stroke-width="1.0" />
<text x="377.40" y="99.10" font-size="7.8" text-anchor="end" fill="#111" stroke="#111" stroke-width="0.10">40</text>
<line x1="380.50" y1="69.90" x2="383.80" y2="69.90" stroke="#111" stroke-width="1.0" />
<text x="377.40" y="72.60" font-size="7.8" text-anchor="end" fill="#111" stroke="#111" stroke-width="0.10">60</text>
<line x1="380.50" y1="43.40" x2="383.80" y2="43.40" stroke="#111" stroke-width="1.0" />
<text x="377.40" y="46.10" font-size="7.8" text-anchor="end" fill="#111" stroke="#111" stroke-width="0.10">80</text>
<line x1="409.40" y1="149.40" x2="409.40" y2="152.50" stroke="#111" stroke-width="1.0" />
<line x1="447.80" y1="149.40" x2="447.80" y2="152.50" stroke="#111" stroke-width="1.0" />
<line x1="486.50" y1="149.40" x2="486.50" y2="152.50" stroke="#111" stroke-width="1.0" />
<text transform="translate(363.3 124.0) rotate(-90)" font-size="8.8" fill="#111" textLength="60" lengthAdjust="spacingAndGlyphs">CD4<tspan font-size="5.8" dy="-3.3">+</tspan><tspan dy="3.3">CD137</tspan><tspan font-size="5.8" dy="-3.3">+</tspan><tspan dy="3.3"> (%)</tspan></text>
<path d="M409.5 38.9V27.5H486.5V38.9" fill="none" stroke="#111" stroke-width="1.0" />
<path d="M409.5 68.6V44.5H446.5V58.6" fill="none" stroke="#111" stroke-width="1.0" />
<path d="M449.5 58.6V44.5H486.5V47.8" fill="none" stroke="#111" stroke-width="1.0" />
<polygon points="441.70,21.20 442.26,22.43 443.60,22.58 442.60,23.49 442.88,24.82 441.70,24.15 440.52,24.82 440.80,23.49 439.80,22.58 441.14,22.43" fill="#111"/>
<polygon points="445.90,21.20 446.46,22.43 447.80,22.58 446.80,23.49 447.08,24.82 445.90,24.15 444.72,24.82 445.00,23.49 444.00,22.58 445.34,22.43" fill="#111"/>
<polygon points="450.10,21.20 450.66,22.43 452.00,22.58 451.00,23.49 451.28,24.82 450.10,24.15 448.92,24.82 449.20,23.49 448.20,22.58 449.54,22.43" fill="#111"/>
<polygon points="454.30,21.20 454.86,22.43 456.20,22.58 455.20,23.49 455.48,24.82 454.30,24.15 453.12,24.82 453.40,23.49 452.40,22.58 453.74,22.43" fill="#111"/>
<polygon points="423.70,37.40 424.26,38.63 425.60,38.78 424.60,39.69 424.88,41.02 423.70,40.35 422.52,41.02 422.80,39.69 421.80,38.78 423.14,38.63" fill="#111"/>
<polygon points="427.90,37.40 428.46,38.63 429.80,38.78 428.80,39.69 429.08,41.02 427.90,40.35 426.72,41.02 427.00,39.69 426.00,38.78 427.34,38.63" fill="#111"/>
<polygon points="432.10,37.40 432.66,38.63 434.00,38.78 433.00,39.69 433.28,41.02 432.10,40.35 430.92,41.02 431.20,39.69 430.20,38.78 431.54,38.63" fill="#111"/>
<polygon points="466.10,37.40 466.66,38.63 468.00,38.78 467.00,39.69 467.28,41.02 466.10,40.35 464.92,41.02 465.20,39.69 464.20,38.78 465.54,38.63" fill="#111"/>
<polygon points="470.30,37.40 470.86,38.63 472.20,38.78 471.20,39.69 471.48,41.02 470.30,40.35 469.12,41.02 469.40,39.69 468.40,38.78 469.74,38.63" fill="#111"/>
<text x="0.00" y="0.00" font-size="8.3" text-anchor="end" fill="#111" stroke="#111" stroke-width="0.10" transform="translate(411.0 158.6) rotate(-45)">TCE3 “core”</text>
<text x="0.00" y="0.00" font-size="8.3" text-anchor="end" fill="#111" stroke="#111" stroke-width="0.10" transform="translate(449.4 158.6) rotate(-45)">TCE3 “non-core”</text>
<text x="0.00" y="0.00" font-size="8.3" text-anchor="end" fill="#111" stroke="#111" stroke-width="0.10" transform="translate(488.1 158.6) rotate(-45)">TCE1</text>
<text x="6.60" y="230.20" font-size="11.8" font-weight="bold" stroke="#1a1a1a" stroke-width="0.10" textLength="7.40" lengthAdjust="spacingAndGlyphs">C</text>
<text x="6.90" y="414.60" font-size="11.8" font-weight="bold" stroke="#1a1a1a" stroke-width="0.10" textLength="7.80" lengthAdjust="spacingAndGlyphs">D</text>
<text x="90.00" y="230.00" font-size="8.8" stroke="#1a1a1a" stroke-width="0.10" textLength="51.20" lengthAdjust="spacingAndGlyphs">TCE “classic”</text>
<text x="66.90" y="241.80" font-size="6.5" fill="#222" stroke="#222" stroke-width="0.00" textLength="30.60" lengthAdjust="spacingAndGlyphs">aGvHD2–4</text>
<text x="103.40" y="241.80" font-size="6.5" fill="#222" stroke="#222" stroke-width="0.00" textLength="65.50" lengthAdjust="spacingAndGlyphs">Overall p-value=0.0002</text>
<line x1="67.60" y1="247.60" x2="67.60" y2="349.90" stroke="#111" stroke-width="1.3" />
<line x1="67.00" y1="349.30" x2="162.80" y2="349.30" stroke="#111" stroke-width="1.3" />
<line x1="67.60" y1="349.30" x2="67.60" y2="352.70" stroke="#111" stroke-width="1.0" />
<text x="67.60" y="361.80" font-size="8.8" text-anchor="middle" stroke="#1a1a1a" stroke-width="0.10" textLength="11.00" lengthAdjust="spacingAndGlyphs">0.5</text>
<line x1="110.40" y1="349.30" x2="110.40" y2="352.70" stroke="#111" stroke-width="1.0" />
<text x="110.40" y="361.80" font-size="8.8" text-anchor="middle" stroke="#1a1a1a" stroke-width="0.10" textLength="11.00" lengthAdjust="spacingAndGlyphs">1.0</text>
<line x1="153.20" y1="349.30" x2="153.20" y2="352.70" stroke="#111" stroke-width="1.0" />
<text x="153.20" y="361.80" font-size="8.8" text-anchor="middle" stroke="#1a1a1a" stroke-width="0.10" textLength="11.00" lengthAdjust="spacingAndGlyphs">1.5</text>
<text x="94.90" y="374.30" font-size="9.3" stroke="#1a1a1a" stroke-width="0.10" textLength="39.60" lengthAdjust="spacingAndGlyphs">Hazard ratio</text>
<line x1="110.30" y1="247.60" x2="110.30" y2="349.30" stroke="#151515" stroke-width="1.2" stroke-dasharray="2.7 2.55" stroke-dashoffset="1.6"/>
<line x1="64.30" y1="258.50" x2="67.60" y2="258.50" stroke="#111" stroke-width="1.0" />
<text x="61.20" y="260.85" font-size="8.1" text-anchor="end" stroke="#1a1a1a" stroke-width="0.10" textLength="21.70" lengthAdjust="spacingAndGlyphs">Match</text>
<line x1="82.20" y1="258.50" x2="98.70" y2="258.50" stroke="#262626" stroke-width="1.3" />
<line x1="82.20" y1="256.20" x2="82.20" y2="260.80" stroke="#262626" stroke-width="1.2" />
<line x1="98.70" y1="256.20" x2="98.70" y2="260.80" stroke="#262626" stroke-width="1.2" />
<circle cx="89.90" cy="258.50" r="2.1" fill="#cc0a2e" />
<line x1="64.30" y1="299.30" x2="67.60" y2="299.30" stroke="#111" stroke-width="1.0" />
<text x="61.20" y="301.65" font-size="8.1" text-anchor="end" stroke="#1a1a1a" stroke-width="0.10" textLength="37.50" lengthAdjust="spacingAndGlyphs">Permissive</text>
<line x1="95.20" y1="299.30" x2="107.30" y2="299.30" stroke="#262626" stroke-width="1.3" />
<line x1="95.20" y1="297.00" x2="95.20" y2="301.60" stroke="#262626" stroke-width="1.2" />
<line x1="107.30" y1="297.00" x2="107.30" y2="301.60" stroke="#262626" stroke-width="1.2" />
<circle cx="100.40" cy="299.30" r="2.1" fill="#cc0a2e" />
<line x1="64.30" y1="340.10" x2="67.60" y2="340.10" stroke="#111" stroke-width="1.0" />
<text x="61.20" y="342.45" font-size="8.1" text-anchor="end" stroke="#1a1a1a" stroke-width="0.10" textLength="55.00" lengthAdjust="spacingAndGlyphs">Non-permissive</text>
<circle cx="110.40" cy="340.10" r="2.1" fill="#cc0a2e" />
<text x="145.20" y="261.30" font-size="7.5" stroke="#1a1a1a" stroke-width="0.10" textLength="22.60" lengthAdjust="spacingAndGlyphs">&lt;.0001</text>
<text x="145.20" y="302.00" font-size="7.5" stroke="#1a1a1a" stroke-width="0.10" textLength="22.50" lengthAdjust="spacingAndGlyphs">0.0117</text>
<text x="249.20" y="230.00" font-size="8.8" stroke="#1a1a1a" stroke-width="0.10" textLength="71.60" lengthAdjust="spacingAndGlyphs">“Core”/“non-core”</text>
<text x="237.60" y="241.80" font-size="6.5" fill="#222" stroke="#222" stroke-width="0.00" textLength="30.60" lengthAdjust="spacingAndGlyphs">aGvHD2–4</text>
<text x="274.00" y="241.80" font-size="6.5" fill="#222" stroke="#222" stroke-width="0.00" textLength="66.00" lengthAdjust="spacingAndGlyphs">Overall p-value=0.0002</text>
<line x1="238.20" y1="247.60" x2="238.20" y2="349.90" stroke="#111" stroke-width="1.3" />
<line x1="237.60" y1="349.30" x2="333.40" y2="349.30" stroke="#111" stroke-width="1.3" />
<line x1="238.20" y1="349.30" x2="238.20" y2="352.70" stroke="#111" stroke-width="1.0" />
<text x="238.20" y="361.80" font-size="8.8" text-anchor="middle" stroke="#1a1a1a" stroke-width="0.10" textLength="11.00" lengthAdjust="spacingAndGlyphs">0.5</text>
<line x1="281.00" y1="349.30" x2="281.00" y2="352.70" stroke="#111" stroke-width="1.0" />
<text x="281.00" y="361.80" font-size="8.8" text-anchor="middle" stroke="#1a1a1a" stroke-width="0.10" textLength="11.00" lengthAdjust="spacingAndGlyphs">1.0</text>
<line x1="323.80" y1="349.30" x2="323.80" y2="352.70" stroke="#111" stroke-width="1.0" />
<text x="323.80" y="361.80" font-size="8.8" text-anchor="middle" stroke="#1a1a1a" stroke-width="0.10" textLength="11.00" lengthAdjust="spacingAndGlyphs">1.5</text>
<text x="265.50" y="374.30" font-size="9.3" stroke="#1a1a1a" stroke-width="0.10" textLength="39.60" lengthAdjust="spacingAndGlyphs">Hazard ratio</text>
<line x1="280.90" y1="247.60" x2="280.90" y2="349.30" stroke="#151515" stroke-width="1.2" stroke-dasharray="2.7 2.55" stroke-dashoffset="-0.5"/>
<line x1="234.90" y1="258.50" x2="238.20" y2="258.50" stroke="#111" stroke-width="1.0" />
<text x="231.80" y="260.85" font-size="8.1" text-anchor="end" stroke="#1a1a1a" stroke-width="0.10" textLength="21.70" lengthAdjust="spacingAndGlyphs">Match</text>
<line x1="252.70" y1="258.50" x2="268.90" y2="258.50" stroke="#262626" stroke-width="1.3" />
<line x1="252.70" y1="256.20" x2="252.70" y2="260.80" stroke="#262626" stroke-width="1.2" />
<line x1="268.90" y1="256.20" x2="268.90" y2="260.80" stroke="#262626" stroke-width="1.2" />
<circle cx="260.30" cy="258.50" r="2.1" fill="#cc0a2e" />
<line x1="234.90" y1="285.90" x2="238.20" y2="285.90" stroke="#111" stroke-width="1.0" />
<text x="231.80" y="283.50" font-size="8.1" text-anchor="end" stroke="#1a1a1a" stroke-width="0.10" textLength="30.90" lengthAdjust="spacingAndGlyphs">Core 3/3</text>
<text x="231.80" y="292.50" font-size="8.1" text-anchor="end" stroke="#1a1a1a" stroke-width="0.10" textLength="36.80" lengthAdjust="spacingAndGlyphs">permissive</text>
<line x1="260.60" y1="285.90" x2="275.60" y2="285.90" stroke="#262626" stroke-width="1.3" />
<line x1="260.60" y1="283.60" x2="260.60" y2="288.20" stroke="#262626" stroke-width="1.2" />
<line x1="275.60" y1="283.60" x2="275.60" y2="288.20" stroke="#262626" stroke-width="1.2" />
<circle cx="268.00" cy="285.90" r="2.1" fill="#cc0a2e" />
<line x1="234.90" y1="312.70" x2="238.20" y2="312.70" stroke="#111" stroke-width="1.0" />
<text x="231.80" y="310.20" font-size="8.1" text-anchor="end" stroke="#1a1a1a" stroke-width="0.10" textLength="46.80" lengthAdjust="spacingAndGlyphs">Non-core 3/3</text>
<text x="231.80" y="319.30" font-size="8.1" text-anchor="end" stroke="#1a1a1a" stroke-width="0.10" textLength="36.80" lengthAdjust="spacingAndGlyphs">permissive</text>
<line x1="268.00" y1="312.70" x2="285.30" y2="312.70" stroke="#262626" stroke-width="1.3" />
<line x1="268.00" y1="310.40" x2="268.00" y2="315.00" stroke="#262626" stroke-width="1.2" />
<line x1="285.30" y1="310.40" x2="285.30" y2="315.00" stroke="#262626" stroke-width="1.2" />
<circle cx="275.60" cy="312.70" r="2.1" fill="#cc0a2e" />
<line x1="234.90" y1="340.10" x2="238.20" y2="340.10" stroke="#111" stroke-width="1.0" />
<text x="231.80" y="342.45" font-size="8.1" text-anchor="end" stroke="#1a1a1a" stroke-width="0.10" textLength="55.00" lengthAdjust="spacingAndGlyphs">Non-permissive</text>
<circle cx="281.00" cy="340.10" r="2.1" fill="#cc0a2e" />
<text x="315.80" y="261.10" font-size="7.5" stroke="#1a1a1a" stroke-width="0.10" textLength="22.60" lengthAdjust="spacingAndGlyphs">&lt;.0001</text>
<text x="315.80" y="288.30" font-size="7.5" stroke="#1a1a1a" stroke-width="0.10" textLength="22.50" lengthAdjust="spacingAndGlyphs">0.0025</text>
<text x="315.80" y="315.40" font-size="7.5" stroke="#1a1a1a" stroke-width="0.10" textLength="22.50" lengthAdjust="spacingAndGlyphs">0.2728</text>
<text x="90.10" y="414.50" font-size="8.8" stroke="#1a1a1a" stroke-width="0.10" textLength="50.30" lengthAdjust="spacingAndGlyphs">TCE “classic”</text>
<text x="82.70" y="425.70" font-size="6.5" fill="#222" stroke="#222" stroke-width="0.00" textLength="13.40" lengthAdjust="spacingAndGlyphs">TRM</text>
<text x="103.40" y="425.70" font-size="6.5" fill="#222" stroke="#222" stroke-width="0.00" textLength="66.20" lengthAdjust="spacingAndGlyphs">Overall p-value=0.0328</text>
<line x1="67.60" y1="432.50" x2="67.60" y2="534.40" stroke="#111" stroke-width="1.3" />
<line x1="67.00" y1="533.80" x2="162.80" y2="533.80" stroke="#111" stroke-width="1.3" />
<line x1="67.60" y1="533.80" x2="67.60" y2="537.20" stroke="#111" stroke-width="1.0" />
<text x="67.60" y="546.30" font-size="8.8" text-anchor="middle" stroke="#1a1a1a" stroke-width="0.10" textLength="11.00" lengthAdjust="spacingAndGlyphs">0.5</text>
<line x1="110.40" y1="533.80" x2="110.40" y2="537.20" stroke="#111" stroke-width="1.0" />
<text x="110.40" y="546.30" font-size="8.8" text-anchor="middle" stroke="#1a1a1a" stroke-width="0.10" textLength="11.00" lengthAdjust="spacingAndGlyphs">1.0</text>
<line x1="153.20" y1="533.80" x2="153.20" y2="537.20" stroke="#111" stroke-width="1.0" />
<text x="153.20" y="546.30" font-size="8.8" text-anchor="middle" stroke="#1a1a1a" stroke-width="0.10" textLength="11.00" lengthAdjust="spacingAndGlyphs">1.5</text>
<text x="94.90" y="558.80" font-size="9.3" stroke="#1a1a1a" stroke-width="0.10" textLength="39.60" lengthAdjust="spacingAndGlyphs">Hazard ratio</text>
<line x1="110.30" y1="432.50" x2="110.30" y2="533.80" stroke="#151515" stroke-width="1.2" stroke-dasharray="2.7 2.55" stroke-dashoffset="1.0"/>
<line x1="64.30" y1="442.90" x2="67.60" y2="442.90" stroke="#111" stroke-width="1.0" />
<text x="61.20" y="445.25" font-size="8.1" text-anchor="end" stroke="#1a1a1a" stroke-width="0.10" textLength="21.70" lengthAdjust="spacingAndGlyphs">Match</text>
<line x1="90.30" y1="442.90" x2="112.70" y2="442.90" stroke="#262626" stroke-width="1.3" />
<line x1="90.30" y1="440.60" x2="90.30" y2="445.20" stroke="#262626" stroke-width="1.2" />
<line x1="112.70" y1="440.60" x2="112.70" y2="445.20" stroke="#262626" stroke-width="1.2" />
<circle cx="101.80" cy="442.90" r="2.1" fill="#cc0a2e" />
<line x1="64.30" y1="482.30" x2="67.60" y2="482.30" stroke="#111" stroke-width="1.0" />
<text x="61.20" y="484.65" font-size="8.1" text-anchor="end" stroke="#1a1a1a" stroke-width="0.10" textLength="37.50" lengthAdjust="spacingAndGlyphs">Permissive</text>
<line x1="91.90" y1="482.30" x2="108.10" y2="482.30" stroke="#262626" stroke-width="1.3" />
<line x1="91.90" y1="480.00" x2="91.90" y2="484.60" stroke="#262626" stroke-width="1.2" />
<line x1="108.10" y1="480.00" x2="108.10" y2="484.60" stroke="#262626" stroke-width="1.2" />
<circle cx="100.00" cy="482.30" r="2.1" fill="#cc0a2e" />
<line x1="64.30" y1="521.00" x2="67.60" y2="521.00" stroke="#111" stroke-width="1.0" />
<text x="61.20" y="523.35" font-size="8.1" text-anchor="end" stroke="#1a1a1a" stroke-width="0.10" textLength="55.00" lengthAdjust="spacingAndGlyphs">Non-permissive</text>
<circle cx="110.40" cy="521.00" r="2.1" fill="#cc0a2e" />
<text x="249.60" y="414.50" font-size="8.8" stroke="#1a1a1a" stroke-width="0.10" textLength="71.60" lengthAdjust="spacingAndGlyphs">“Core”/“non-core”</text>
<text x="253.10" y="425.70" font-size="6.5" fill="#222" stroke="#222" stroke-width="0.00" textLength="13.40" lengthAdjust="spacingAndGlyphs">TRM</text>
<text x="274.30" y="425.70" font-size="6.5" fill="#222" stroke="#222" stroke-width="0.00" textLength="66.50" lengthAdjust="spacingAndGlyphs">Overall p-value=0.0042</text>
<line x1="238.50" y1="432.30" x2="238.50" y2="534.40" stroke="#111" stroke-width="1.3" />
<line x1="237.90" y1="533.80" x2="333.70" y2="533.80" stroke="#111" stroke-width="1.3" />
<line x1="238.50" y1="533.80" x2="238.50" y2="537.20" stroke="#111" stroke-width="1.0" />
<text x="238.50" y="546.30" font-size="8.8" text-anchor="middle" stroke="#1a1a1a" stroke-width="0.10" textLength="11.00" lengthAdjust="spacingAndGlyphs">0.5</text>
<line x1="281.30" y1="533.80" x2="281.30" y2="537.20" stroke="#111" stroke-width="1.0" />
<text x="281.30" y="546.30" font-size="8.8" text-anchor="middle" stroke="#1a1a1a" stroke-width="0.10" textLength="11.00" lengthAdjust="spacingAndGlyphs">1.0</text>
<line x1="324.10" y1="533.80" x2="324.10" y2="537.20" stroke="#111" stroke-width="1.0" />
<text x="324.10" y="546.30" font-size="8.8" text-anchor="middle" stroke="#1a1a1a" stroke-width="0.10" textLength="11.00" lengthAdjust="spacingAndGlyphs">1.5</text>
<text x="265.80" y="558.80" font-size="9.3" stroke="#1a1a1a" stroke-width="0.10" textLength="39.60" lengthAdjust="spacingAndGlyphs">Hazard ratio</text>
<line x1="281.20" y1="432.30" x2="281.20" y2="533.80" stroke="#151515" stroke-width="1.2" stroke-dasharray="2.7 2.55" stroke-dashoffset="0.8"/>
<line x1="235.20" y1="443.20" x2="238.50" y2="443.20" stroke="#111" stroke-width="1.0" />
<text x="232.10" y="445.55" font-size="8.1" text-anchor="end" stroke="#1a1a1a" stroke-width="0.10" textLength="30.90" lengthAdjust="spacingAndGlyphs">Matched</text>
<line x1="261.00" y1="443.20" x2="283.30" y2="443.20" stroke="#262626" stroke-width="1.3" />
<line x1="261.00" y1="440.90" x2="261.00" y2="445.50" stroke="#262626" stroke-width="1.2" />
<line x1="283.30" y1="440.90" x2="283.30" y2="445.50" stroke="#262626" stroke-width="1.2" />
<circle cx="272.10" cy="443.20" r="2.1" fill="#cc0a2e" />
<line x1="235.20" y1="470.30" x2="238.50" y2="470.30" stroke="#111" stroke-width="1.0" />
<text x="232.10" y="468.30" font-size="8.1" text-anchor="end" stroke="#1a1a1a" stroke-width="0.10" textLength="30.90" lengthAdjust="spacingAndGlyphs">Core 3/3</text>
<text x="232.10" y="477.40" font-size="8.1" text-anchor="end" stroke="#1a1a1a" stroke-width="0.10" textLength="36.80" lengthAdjust="spacingAndGlyphs">permissive</text>
<line x1="253.80" y1="470.30" x2="270.60" y2="470.30" stroke="#262626" stroke-width="1.3" />
<line x1="253.80" y1="468.00" x2="253.80" y2="472.60" stroke="#262626" stroke-width="1.2" />
<line x1="270.60" y1="468.00" x2="270.60" y2="472.60" stroke="#262626" stroke-width="1.2" />
<circle cx="261.90" cy="470.30" r="2.1" fill="#cc0a2e" />
<line x1="235.20" y1="497.40" x2="238.50" y2="497.40" stroke="#111" stroke-width="1.0" />
<text x="232.10" y="495.60" font-size="8.1" text-anchor="end" stroke="#1a1a1a" stroke-width="0.10" textLength="46.80" lengthAdjust="spacingAndGlyphs">Non-core 3/3</text>
<text x="232.10" y="504.60" font-size="8.1" text-anchor="end" stroke="#1a1a1a" stroke-width="0.10" textLength="36.80" lengthAdjust="spacingAndGlyphs">permissive</text>
<line x1="266.30" y1="497.40" x2="288.50" y2="497.40" stroke="#262626" stroke-width="1.3" />
<line x1="266.30" y1="495.10" x2="266.30" y2="499.70" stroke="#262626" stroke-width="1.2" />
<line x1="288.50" y1="495.10" x2="288.50" y2="499.70" stroke="#262626" stroke-width="1.2" />
<circle cx="276.90" cy="497.40" r="2.1" fill="#cc0a2e" />
<line x1="235.20" y1="524.40" x2="238.50" y2="524.40" stroke="#111" stroke-width="1.0" />
<text x="232.10" y="526.75" font-size="8.1" text-anchor="end" stroke="#1a1a1a" stroke-width="0.10" textLength="55.00" lengthAdjust="spacingAndGlyphs">Non-permissive</text>
<circle cx="281.30" cy="524.40" r="2.1" fill="#cc0a2e" />
<text x="316.10" y="446.00" font-size="7.5" stroke="#1a1a1a" stroke-width="0.10" textLength="22.50" lengthAdjust="spacingAndGlyphs">0.1209</text>
<text x="316.10" y="472.70" font-size="7.5" stroke="#1a1a1a" stroke-width="0.10" textLength="22.50" lengthAdjust="spacingAndGlyphs">0.0002</text>
<text x="316.10" y="500.20" font-size="7.5" stroke="#1a1a1a" stroke-width="0.10" textLength="22.50" lengthAdjust="spacingAndGlyphs">0.4578</text>
<text x="354.00" y="230.20" font-size="11.8" font-weight="bold" stroke="#1a1a1a" stroke-width="0.10" textLength="6.80" lengthAdjust="spacingAndGlyphs">E</text>
<text x="439.80" y="241.20" font-size="8.7" stroke="#1a1a1a" stroke-width="0.10" textLength="17.40" lengthAdjust="spacingAndGlyphs">TRM</text>
<line x1="384.00" y1="247.50" x2="384.00" y2="350.00" stroke="#111" stroke-width="1.6" />
<line x1="383.40" y1="349.40" x2="512.40" y2="349.40" stroke="#111" stroke-width="1.3" />
<line x1="380.60" y1="349.40" x2="384.00" y2="349.40" stroke="#111" stroke-width="1.0" />
<text x="377.70" y="352.30" font-size="8.4" text-anchor="end" stroke="#1a1a1a" stroke-width="0.10" textLength="10.20" lengthAdjust="spacingAndGlyphs">0.0</text>
<line x1="380.60" y1="329.98" x2="384.00" y2="329.98" stroke="#111" stroke-width="1.0" />
<text x="377.70" y="332.88" font-size="8.4" text-anchor="end" stroke="#1a1a1a" stroke-width="0.10" textLength="10.20" lengthAdjust="spacingAndGlyphs">0.2</text>
<line x1="380.60" y1="310.56" x2="384.00" y2="310.56" stroke="#111" stroke-width="1.0" />
<text x="377.70" y="313.46" font-size="8.4" text-anchor="end" stroke="#1a1a1a" stroke-width="0.10" textLength="10.20" lengthAdjust="spacingAndGlyphs">0.4</text>
<line x1="380.60" y1="291.14" x2="384.00" y2="291.14" stroke="#111" stroke-width="1.0" />
<text x="377.70" y="294.04" font-size="8.4" text-anchor="end" stroke="#1a1a1a" stroke-width="0.10" textLength="10.20" lengthAdjust="spacingAndGlyphs">0.6</text>
<line x1="380.60" y1="271.72" x2="384.00" y2="271.72" stroke="#111" stroke-width="1.0" />
<text x="377.70" y="274.62" font-size="8.4" text-anchor="end" stroke="#1a1a1a" stroke-width="0.10" textLength="10.20" lengthAdjust="spacingAndGlyphs">0.8</text>
<line x1="380.60" y1="252.30" x2="384.00" y2="252.30" stroke="#111" stroke-width="1.0" />
<text x="377.70" y="255.20" font-size="8.4" text-anchor="end" stroke="#1a1a1a" stroke-width="0.10" textLength="10.20" lengthAdjust="spacingAndGlyphs">1.0</text>
<line x1="384.00" y1="349.40" x2="384.00" y2="352.20" stroke="#111" stroke-width="1.0" />
<text x="384.00" y="362.70" font-size="8.8" text-anchor="middle" stroke="#1a1a1a" stroke-width="0.10" textLength="4.60" lengthAdjust="spacingAndGlyphs">0</text>
<line x1="391.84" y1="349.40" x2="391.84" y2="352.20" stroke="#111" stroke-width="1.0" />
<text x="391.84" y="362.70" font-size="8.8" text-anchor="middle" stroke="#1a1a1a" stroke-width="0.10" textLength="4.60" lengthAdjust="spacingAndGlyphs">3</text>
<line x1="399.68" y1="349.40" x2="399.68" y2="352.20" stroke="#111" stroke-width="1.0" />
<text x="399.68" y="362.70" font-size="8.8" text-anchor="middle" stroke="#1a1a1a" stroke-width="0.10" textLength="4.60" lengthAdjust="spacingAndGlyphs">6</text>
<line x1="415.35" y1="349.40" x2="415.35" y2="352.20" stroke="#111" stroke-width="1.0" />
<text x="415.35" y="362.70" font-size="8.8" text-anchor="middle" stroke="#1a1a1a" stroke-width="0.10" textLength="8.80" lengthAdjust="spacingAndGlyphs">12</text>
<line x1="446.70" y1="349.40" x2="446.70" y2="352.20" stroke="#111" stroke-width="1.0" />
<text x="446.70" y="362.70" font-size="8.8" text-anchor="middle" stroke="#1a1a1a" stroke-width="0.10" textLength="8.80" lengthAdjust="spacingAndGlyphs">24</text>
<line x1="478.05" y1="349.40" x2="478.05" y2="352.20" stroke="#111" stroke-width="1.0" />
<text x="478.05" y="362.70" font-size="8.8" text-anchor="middle" stroke="#1a1a1a" stroke-width="0.10" textLength="8.80" lengthAdjust="spacingAndGlyphs">36</text>
<line x1="509.40" y1="349.40" x2="509.40" y2="352.20" stroke="#111" stroke-width="1.0" />
<text x="509.40" y="362.70" font-size="8.8" text-anchor="middle" stroke="#1a1a1a" stroke-width="0.10" textLength="8.80" lengthAdjust="spacingAndGlyphs">48</text>
<text x="385.00" y="375.60" font-size="9.0" stroke="#1a1a1a" stroke-width="0.10" textLength="125.00" lengthAdjust="spacingAndGlyphs">Time from date of transplant (months)</text>
<text x="0.00" y="0.00" font-size="9.5" text-anchor="middle" stroke="#1a1a1a" stroke-width="0.10" textLength="35.40" lengthAdjust="spacingAndGlyphs" transform="translate(360.8 300.5) rotate(-90)">Probability</text>
<rect x="386.30" y="252.30" width="121.40" height="8.10" fill="#dce5ee" />
<rect x="386.30" y="260.35" width="121.40" height="8.10" fill="#b7c9da" />
<rect x="386.30" y="268.40" width="121.40" height="8.10" fill="#dce5ee" />
<rect x="386.30" y="276.45" width="121.40" height="8.10" fill="#b7c9da" />
<rect x="386.30" y="284.50" width="121.40" height="8.10" fill="#dce5ee" />
<text x="388.00" y="258.20" font-size="6.7" fill="#262626" stroke="#262626" stroke-width="0.00" textLength="36.60" lengthAdjust="spacingAndGlyphs">Total N of subjects</text>
<text x="432.80" y="258.20" font-size="6.7" fill="#262626" stroke="#262626" stroke-width="0.00" textLength="11.00" lengthAdjust="spacingAndGlyphs">2216</text>
<text x="388.00" y="266.25" font-size="6.7" fill="#262626" stroke="#262626" stroke-width="0.00" textLength="27.70" lengthAdjust="spacingAndGlyphs">N of censored</text>
<text x="432.80" y="266.25" font-size="6.7" fill="#262626" stroke="#262626" stroke-width="0.00" textLength="73.00" lengthAdjust="spacingAndGlyphs">TCE non-core = 525, TCE core = 405</text>
<text x="388.00" y="274.30" font-size="6.7" fill="#262626" stroke="#262626" stroke-width="0.00" textLength="22.60" lengthAdjust="spacingAndGlyphs">N of events</text>
<text x="432.80" y="274.30" font-size="6.7" fill="#262626" stroke="#262626" stroke-width="0.00" textLength="73.00" lengthAdjust="spacingAndGlyphs">TCE non-core = 348, TCE core = 210</text>
<text x="388.00" y="282.35" font-size="6.7" fill="#262626" stroke="#262626" stroke-width="0.00" textLength="41.10" lengthAdjust="spacingAndGlyphs">N of competing risks</text>
<text x="432.80" y="282.35" font-size="6.7" fill="#262626" stroke="#262626" stroke-width="0.00" textLength="73.00" lengthAdjust="spacingAndGlyphs">TCE non-core = 385, TCE core = 303</text>
<text x="388.00" y="290.40" font-size="6.7" fill="#262626" stroke="#262626" stroke-width="0.00" textLength="36.60" lengthAdjust="spacingAndGlyphs">Gray’s test p-value</text>
<text x="432.80" y="290.40" font-size="6.7" fill="#262626" stroke="#262626" stroke-width="0.00" textLength="12.60" lengthAdjust="spacingAndGlyphs">0.012</text>
<text x="434.10" y="311.30" font-size="7.7" stroke="#1a1a1a" stroke-width="0.10" textLength="61.70" lengthAdjust="spacingAndGlyphs">“Core”/“non-core”</text>
<text x="434.50" y="319.50" font-size="7.7" stroke="#1a1a1a" stroke-width="0.10" textLength="63.50" lengthAdjust="spacingAndGlyphs">TRM p-value: 0.012</text>
<path d="M384.10 349.30 L388.10 346.50 L391.50 344.30 L395.00 342.00 L398.50 341.10 L401.90 340.40 L405.40 338.20 L410.00 336.70 L414.60 335.60 L420.40 334.80 L426.20 334.10 L431.90 333.40 L436.00 333.10 L443.30 332.20 L450.60 331.10 L457.90 330.10 L465.20 329.30 L472.50 328.90 L479.80 328.40 L487.20 328.20 L494.50 327.90 L501.80 327.60 L509.40 327.30" fill="none" stroke="#d11a3c" stroke-width="1.35" stroke-linejoin="round"/>
<path d="M384.10 349.30 L386.90 346.10 L389.20 343.70 L392.10 341.30 L395.00 339.60 L398.50 337.10 L401.90 335.20 L405.40 334.40 L410.00 333.60 L414.60 332.50 L420.40 331.50 L426.20 330.60 L431.90 329.70 L436.00 329.10 L443.30 328.20 L450.60 327.10 L457.90 326.40 L465.20 325.70 L472.50 325.20 L479.80 324.80 L487.20 324.20 L494.50 323.80 L501.80 323.00 L509.40 322.00" fill="none" stroke="#1a5496" stroke-width="1.35" stroke-linejoin="round"/>
<line x1="389.90" y1="384.80" x2="402.60" y2="384.80" stroke="#1a5496" stroke-width="1.4" />
<text x="406.00" y="387.70" font-size="8.2" stroke="#1a1a1a" stroke-width="0.10" textLength="44.80" lengthAdjust="spacingAndGlyphs">TCE non-core</text>
<line x1="460.60" y1="384.80" x2="472.90" y2="384.80" stroke="#d11a3c" stroke-width="1.4" />
<text x="476.60" y="387.70" font-size="8.2" stroke="#1a1a1a" stroke-width="0.10" textLength="29.90" lengthAdjust="spacingAndGlyphs">TCE core</text>
<text x="354.00" y="414.70" font-size="11.8" font-weight="bold" stroke="#1a1a1a" stroke-width="0.10" textLength="6.20" lengthAdjust="spacingAndGlyphs">F</text>
<text x="419.40" y="425.80" font-size="8.7" stroke="#1a1a1a" stroke-width="0.10" textLength="57.70" lengthAdjust="spacingAndGlyphs">Overall survival</text>
<line x1="384.00" y1="432.00" x2="384.00" y2="534.60" stroke="#111" stroke-width="1.6" />
<line x1="383.40" y1="534.00" x2="512.40" y2="534.00" stroke="#111" stroke-width="1.3" />
<line x1="380.60" y1="534.00" x2="384.00" y2="534.00" stroke="#111" stroke-width="1.0" />
<text x="377.70" y="536.90" font-size="8.4" text-anchor="end" stroke="#1a1a1a" stroke-width="0.10" textLength="10.20" lengthAdjust="spacingAndGlyphs">0.0</text>
<line x1="380.60" y1="514.54" x2="384.00" y2="514.54" stroke="#111" stroke-width="1.0" />
<text x="377.70" y="517.44" font-size="8.4" text-anchor="end" stroke="#1a1a1a" stroke-width="0.10" textLength="10.20" lengthAdjust="spacingAndGlyphs">0.2</text>
<line x1="380.60" y1="495.08" x2="384.00" y2="495.08" stroke="#111" stroke-width="1.0" />
<text x="377.70" y="497.98" font-size="8.4" text-anchor="end" stroke="#1a1a1a" stroke-width="0.10" textLength="10.20" lengthAdjust="spacingAndGlyphs">0.4</text>
<line x1="380.60" y1="475.62" x2="384.00" y2="475.62" stroke="#111" stroke-width="1.0" />
<text x="377.70" y="478.52" font-size="8.4" text-anchor="end" stroke="#1a1a1a" stroke-width="0.10" textLength="10.20" lengthAdjust="spacingAndGlyphs">0.6</text>
<line x1="380.60" y1="456.16" x2="384.00" y2="456.16" stroke="#111" stroke-width="1.0" />
<text x="377.70" y="459.06" font-size="8.4" text-anchor="end" stroke="#1a1a1a" stroke-width="0.10" textLength="10.20" lengthAdjust="spacingAndGlyphs">0.8</text>
<line x1="380.60" y1="436.70" x2="384.00" y2="436.70" stroke="#111" stroke-width="1.0" />
<text x="377.70" y="439.60" font-size="8.4" text-anchor="end" stroke="#1a1a1a" stroke-width="0.10" textLength="10.20" lengthAdjust="spacingAndGlyphs">1.0</text>
<line x1="384.00" y1="534.00" x2="384.00" y2="536.80" stroke="#111" stroke-width="1.0" />
<text x="384.00" y="547.30" font-size="8.8" text-anchor="middle" stroke="#1a1a1a" stroke-width="0.10" textLength="4.60" lengthAdjust="spacingAndGlyphs">0</text>
<line x1="391.84" y1="534.00" x2="391.84" y2="536.80" stroke="#111" stroke-width="1.0" />
<text x="391.84" y="547.30" font-size="8.8" text-anchor="middle" stroke="#1a1a1a" stroke-width="0.10" textLength="4.60" lengthAdjust="spacingAndGlyphs">3</text>
<line x1="399.68" y1="534.00" x2="399.68" y2="536.80" stroke="#111" stroke-width="1.0" />
<text x="399.68" y="547.30" font-size="8.8" text-anchor="middle" stroke="#1a1a1a" stroke-width="0.10" textLength="4.60" lengthAdjust="spacingAndGlyphs">6</text>
<line x1="415.35" y1="534.00" x2="415.35" y2="536.80" stroke="#111" stroke-width="1.0" />
<text x="415.35" y="547.30" font-size="8.8" text-anchor="middle" stroke="#1a1a1a" stroke-width="0.10" textLength="8.80" lengthAdjust="spacingAndGlyphs">12</text>
<line x1="446.70" y1="534.00" x2="446.70" y2="536.80" stroke="#111" stroke-width="1.0" />
<text x="446.70" y="547.30" font-size="8.8" text-anchor="middle" stroke="#1a1a1a" stroke-width="0.10" textLength="8.80" lengthAdjust="spacingAndGlyphs">24</text>
<line x1="478.05" y1="534.00" x2="478.05" y2="536.80" stroke="#111" stroke-width="1.0" />
<text x="478.05" y="547.30" font-size="8.8" text-anchor="middle" stroke="#1a1a1a" stroke-width="0.10" textLength="8.80" lengthAdjust="spacingAndGlyphs">36</text>
<line x1="509.40" y1="534.00" x2="509.40" y2="536.80" stroke="#111" stroke-width="1.0" />
<text x="509.40" y="547.30" font-size="8.8" text-anchor="middle" stroke="#1a1a1a" stroke-width="0.10" textLength="8.80" lengthAdjust="spacingAndGlyphs">48</text>
<text x="385.00" y="560.20" font-size="9.0" stroke="#1a1a1a" stroke-width="0.10" textLength="126.60" lengthAdjust="spacingAndGlyphs">Time from date of transplant (months)</text>
<text x="0.00" y="0.00" font-size="9.5" text-anchor="middle" stroke="#1a1a1a" stroke-width="0.10" textLength="64.00" lengthAdjust="spacingAndGlyphs" transform="translate(360.8 484.5) rotate(-90)">Survival probability</text>
<rect x="386.30" y="499.10" width="121.40" height="8.10" fill="#dce5ee" />
<rect x="386.30" y="507.15" width="121.40" height="8.10" fill="#b7c9da" />
<rect x="386.30" y="515.20" width="121.40" height="8.10" fill="#dce5ee" />
<rect x="386.30" y="523.25" width="121.40" height="8.10" fill="#b7c9da" />
<text x="388.00" y="505.00" font-size="6.7" fill="#262626" stroke="#262626" stroke-width="0.00" textLength="36.60" lengthAdjust="spacingAndGlyphs">Total N of subjects</text>
<text x="432.80" y="505.00" font-size="6.7" fill="#262626" stroke="#262626" stroke-width="0.00" textLength="11.00" lengthAdjust="spacingAndGlyphs">2216</text>
<text x="388.00" y="513.05" font-size="6.7" fill="#262626" stroke="#262626" stroke-width="0.00" textLength="27.70" lengthAdjust="spacingAndGlyphs">N of censored</text>
<text x="432.80" y="513.05" font-size="6.7" fill="#262626" stroke="#262626" stroke-width="0.00" textLength="73.00" lengthAdjust="spacingAndGlyphs">TCE non-core = 605, TCE core = 481</text>
<text x="388.00" y="521.10" font-size="6.7" fill="#262626" stroke="#262626" stroke-width="0.00" textLength="22.60" lengthAdjust="spacingAndGlyphs">N of events</text>
<text x="432.80" y="521.10" font-size="6.7" fill="#262626" stroke="#262626" stroke-width="0.00" textLength="73.00" lengthAdjust="spacingAndGlyphs">TCE non-core = 681, TCE core = 449</text>
<text x="388.00" y="529.15" font-size="6.7" fill="#262626" stroke="#262626" stroke-width="0.00" textLength="39.60" lengthAdjust="spacingAndGlyphs">Log-rank test p-value</text>
<text x="432.80" y="529.15" font-size="6.7" fill="#262626" stroke="#262626" stroke-width="0.00" textLength="12.60" lengthAdjust="spacingAndGlyphs">0.033</text>
<text x="434.60" y="460.60" font-size="7.7" stroke="#1a1a1a" stroke-width="0.10" textLength="62.40" lengthAdjust="spacingAndGlyphs">“Core”/“non-core”</text>
<text x="436.20" y="469.60" font-size="7.7" stroke="#1a1a1a" stroke-width="0.10" textLength="59.20" lengthAdjust="spacingAndGlyphs">OS p-value: 0.033</text>
<path d="M384.10 436.80 L386.50 438.60 L389.20 441.50 L391.50 445.00 L393.80 448.50 L396.20 451.80 L398.50 454.80 L400.80 457.20 L403.10 459.40 L407.70 462.90 L412.30 465.80 L418.10 469.20 L423.80 472.10 L429.60 473.90 L436.00 475.40 L443.30 477.20 L450.60 479.30 L457.90 481.20 L465.20 482.20 L472.50 483.40 L479.80 484.40 L487.20 485.30 L494.50 486.00 L501.80 487.00 L509.40 488.20" fill="none" stroke="#1a5496" stroke-width="1.35" stroke-linejoin="round"/>
<path d="M384.10 436.80 L386.80 438.30 L389.20 440.40 L391.50 442.50 L393.80 445.00 L396.70 449.00 L400.80 452.50 L404.20 456.00 L407.70 460.00 L412.30 463.50 L418.10 466.30 L423.80 468.70 L429.60 471.00 L436.00 473.20 L443.30 474.30 L450.60 475.80 L457.90 476.80 L465.20 478.00 L472.50 479.00 L479.80 480.20 L487.20 480.90 L494.50 481.60 L501.80 482.40 L509.40 483.40" fill="none" stroke="#d11a3c" stroke-width="1.35" stroke-linejoin="round"/>
<line x1="389.90" y1="569.50" x2="402.60" y2="569.50" stroke="#5687bd" stroke-width="1.7" />
<text x="406.00" y="572.40" font-size="8.2" stroke="#1a1a1a" stroke-width="0.10" textLength="44.80" lengthAdjust="spacingAndGlyphs">TCE non-core</text>
<line x1="460.60" y1="569.50" x2="472.90" y2="569.50" stroke="#de5470" stroke-width="1.7" />
<text x="476.60" y="572.40" font-size="8.2" stroke="#1a1a1a" stroke-width="0.10" textLength="29.90" lengthAdjust="spacingAndGlyphs">TCE core</text>
<path d="M0 0H520V579H0Z M1.2 1V577.3H518.8V1Z" fill="#000" fill-rule="evenodd"/>
</svg>
</body></html>
